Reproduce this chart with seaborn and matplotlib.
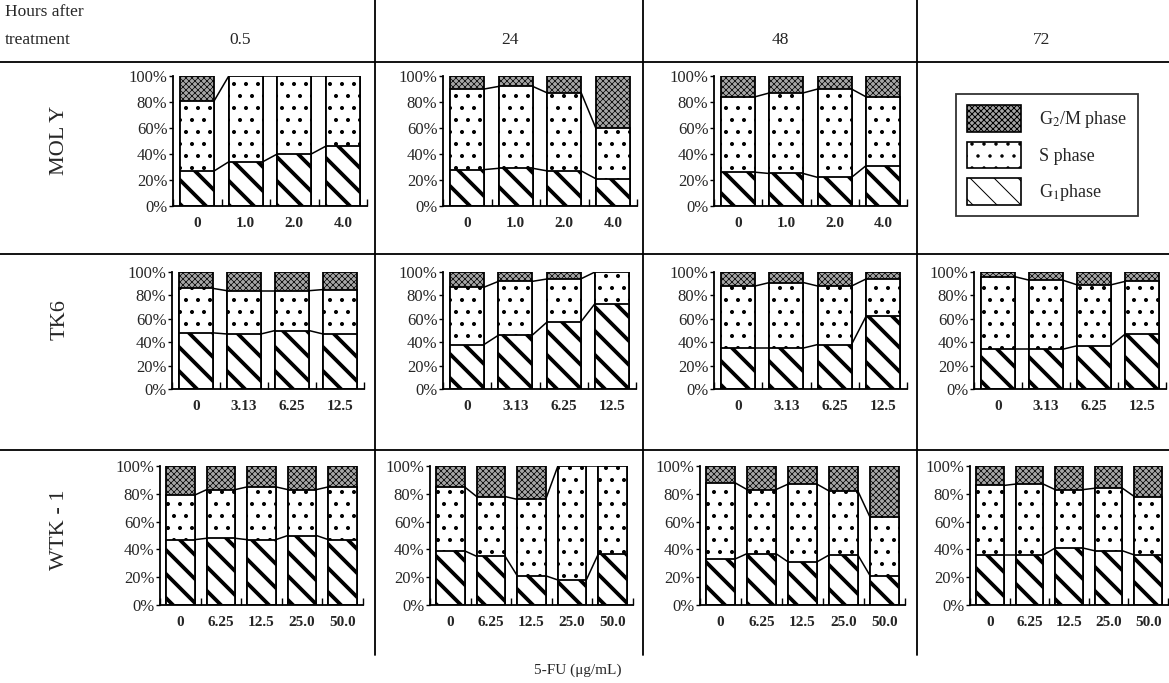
import matplotlib
matplotlib.use("Agg")
import matplotlib.pyplot as plt
import seaborn as sns
from matplotlib.patches import Patch

# --- data (percent of cells) ---
hours = ["0.5", "24", "48", "72"]
cell_lines = ["MOL Y", "TK6", "WTK - 1"]
conc_moly = ["0", "1.0", "2.0", "4.0"]
conc_tk6 = ["0", "3.13", "6.25", "12.5"]
conc_wtk1 = ["0", "6.25", "12.5", "25.0", "50.0"]

g1_moly_05 = [27, 34, 40, 46]
s_moly_05 = [54, 66, 60, 54]
g1_moly_24 = [28, 29, 27, 21]
s_moly_24 = [62, 63, 60, 39]
g1_moly_48 = [26, 25, 22, 31]
s_moly_48 = [58, 62, 68, 53]

g1_tk6_05 = [48, 47, 50, 47]
s_tk6_05 = [38, 37, 34, 38]
g1_tk6_24 = [38, 46, 57, 73]
s_tk6_24 = [49, 46, 37, 27]
g1_tk6_48 = [35, 35, 38, 62]
s_tk6_48 = [53, 56, 50, 32]
g1_tk6_72 = [34, 34, 37, 47]
s_tk6_72 = [62, 59, 52, 45]

g1_wtk1_05 = [47, 48, 47, 50, 47]
s_wtk1_05 = [32, 35, 38, 33, 38]
g1_wtk1_24 = [39, 35, 21, 18, 37]
s_wtk1_24 = [46, 43, 55, 82, 63]
g1_wtk1_48 = [33, 37, 31, 36, 21]
s_wtk1_48 = [55, 46, 56, 46, 42]
g1_wtk1_72 = [36, 36, 41, 39, 36]
s_wtk1_72 = [50, 51, 42, 45, 42]

sns.set_theme(style="white")
plt.rcParams["font.family"] = ["Liberation Serif", "DejaVu Serif"]
plt.rcParams["mathtext.fontset"] = "stix"

# drawn at 72 dpi so the hatch cell is 72 px (denser stripes); K rescales sizes
DPI = 72
K = 100 / 72
W, H = 1169, 683
fig = plt.figure(figsize=(W / DPI, H / DPI), dpi=DPI)


def px_axes(x0, x1, ytop, ybot):
    return fig.add_axes([x0 / W, 1 - ybot / H, (x1 - x0) / W, (ybot - ytop) / H])


G2M_STYLE = dict(facecolor="#a6a6a6", hatch="xxxx", hlw=0.7)
S_STYLE = dict(facecolor="white", hatch=".", hlw=1.6)
G1_STYLE = dict(facecolor="white", hatch="\\", hlw=3.8)


def panel(ax, labels, g1, s):
    n = len(labels)
    top = [a + b for a, b in zip(g1, s)]
    total = [100] * n
    for vals, style in [(total, G2M_STYLE), (top, S_STYLE), (g1, G1_STYLE)]:
        with plt.rc_context({"hatch.linewidth": style["hlw"]}):
            sns.barplot(x=labels, y=vals, order=labels, ax=ax, width=0.7,
                        color=style["facecolor"], saturation=1, edgecolor="black",
                        linewidth=1.3 * K, hatch=style["hatch"], errorbar=None)
    bars = ax.patches[-n:]
    for cum in (g1, top):
        for i in range(n - 1):
            x_a = bars[i].get_x() + bars[i].get_width()
            x_b = bars[i + 1].get_x()
            ax.plot([x_a, x_b], [cum[i], cum[i + 1]], color="black", lw=1.1 * K)
    ax.set_xlim(-0.5, n - 0.5)
    ax.set_ylim(0, 100)
    ax.set_yticks([0, 20, 40, 60, 80, 100])
    ax.set_yticklabels(["0%", "20%", "40%", "60%", "80%", "100%"], fontsize=12 * K)
    ax.set_xticks(range(n))
    ax.set_xticklabels(labels, fontsize=11 * K, fontweight="bold")
    ax.set_xticks([i - 0.5 for i in range(n + 1)], minor=True)
    ax.tick_params(axis="x", which="major", length=0, pad=8 * K)
    ax.tick_params(axis="x", which="minor", direction="in", length=5 * K, width=K, color="black")
    ax.tick_params(axis="y", direction="out", length=3 * K, width=K, color="black", pad=K)
    ax.tick_params(left=True, bottom=True, which="both")
    for side in ("top", "right"):
        ax.spines[side].set_visible(False)
    for side in ("left", "bottom"):
        ax.spines[side].set_color("black")
        ax.spines[side].set_linewidth(1.3 * K)
    ax.set_xlabel("")
    ax.set_ylabel("")
    ax.set_facecolor("white")


panels = [
    ((173, 367, 76, 206), conc_moly, g1_moly_05, s_moly_05),
    ((443, 637, 76, 206), conc_moly, g1_moly_24, s_moly_24),
    ((714, 907, 76, 206), conc_moly, g1_moly_48, s_moly_48),
    ((172, 364, 272, 389), conc_tk6, g1_tk6_05, s_tk6_05),
    ((443, 636, 272, 389), conc_tk6, g1_tk6_24, s_tk6_24),
    ((714, 907, 272, 389), conc_tk6, g1_tk6_48, s_tk6_48),
    ((974, 1166, 272, 389), conc_tk6, g1_tk6_72, s_tk6_72),
    ((160, 363, 466, 605), conc_wtk1, g1_wtk1_05, s_wtk1_05),
    ((430, 633, 466, 605), conc_wtk1, g1_wtk1_24, s_wtk1_24),
    ((700, 905, 466, 605), conc_wtk1, g1_wtk1_48, s_wtk1_48),
    ((970, 1168, 466, 605), conc_wtk1, g1_wtk1_72, s_wtk1_72),
]
for pos, labels, g1, s in panels:
    panel(px_axes(*pos), labels, g1, s)

# grid lines of the table
for y in (62, 254, 450):
    fig.add_artist(plt.Line2D([0, 1], [1 - y / H, 1 - y / H], color="black", lw=1.3 * K))
for x in (375, 643, 917):
    fig.add_artist(plt.Line2D([x / W, x / W], [1 - 655 / H, 1], color="black", lw=1.3 * K))

# header texts
fig.text(5 / W, 1 - 12 / H, "Hours after", fontsize=12.5 * K, va="center", ha="left")
fig.text(5 / W, 1 - 40 / H, "treatment", fontsize=12.5 * K, va="center", ha="left")
for x, h in zip((240, 510, 780, 1042), hours):
    fig.text(x / W, 1 - 40 / H, h, fontsize=12.5 * K, va="center", ha="center")
for y, name in zip((140, 320, 530), cell_lines):
    fig.text(60 / W, 1 - y / H, name, fontsize=16 * K, rotation=90, va="center", ha="center")
fig.text(578 / W, 1 - 670 / H, "5-FU (\u03bcg/mL)", fontsize=11 * K, va="center", ha="center")

# legend
handles = []
for style in (G2M_STYLE, S_STYLE, G1_STYLE):
    with plt.rc_context({"hatch.linewidth": style["hlw"]}):
        handles.append(Patch(facecolor=style["facecolor"], hatch=style["hatch"],
                             edgecolor="black", lw=1.2 * K))
leg = fig.legend(handles, ["G$_2$/M phase", "S phase", "G$_1$phase"],
                 loc="upper left", bbox_to_anchor=(947 / W, 1 - 85 / H),
                 frameon=True, fancybox=False, fontsize=13 * K, handlelength=3.0,
                 handleheight=1.9, labelspacing=0.55, borderpad=0.6, handletextpad=1.0)
leg.get_frame().set_edgecolor("black")
leg.get_frame().set_linewidth(1.3 * K)

fig.savefig("out.png", dpi=DPI, facecolor="white")
